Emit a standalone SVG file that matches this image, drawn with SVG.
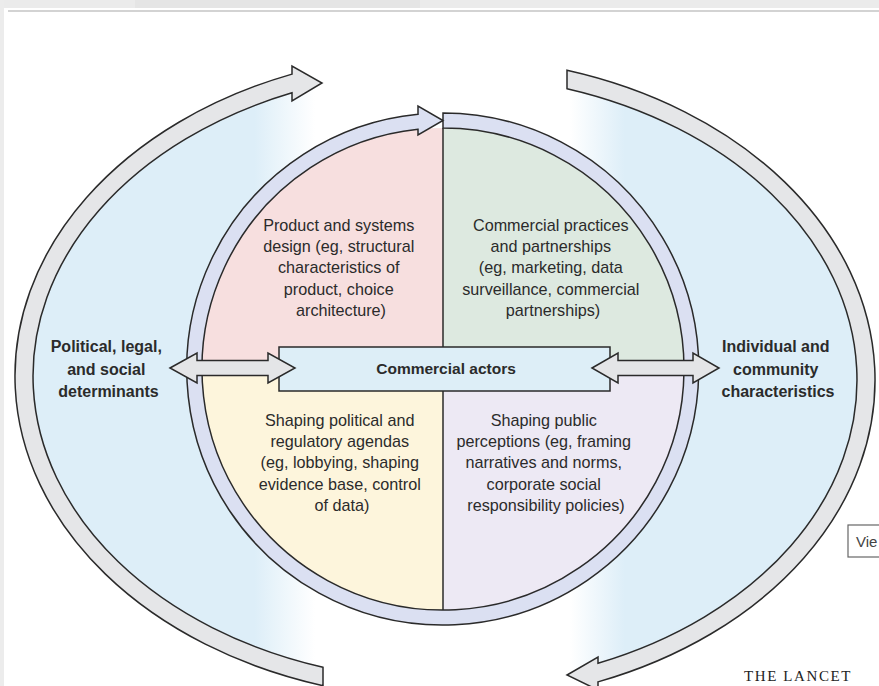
<svg xmlns="http://www.w3.org/2000/svg" width="879" height="686" viewBox="0 0 879 686">
  <defs>
    <linearGradient id="bgGrad" gradientUnits="userSpaceOnUse" x1="31" y1="0" x2="859" y2="0">
      <stop offset="0" stop-color="#ddeef8"/>
      <stop offset="0.27" stop-color="#ddeef8"/>
      <stop offset="0.343" stop-color="#ffffff"/>
      <stop offset="0.651" stop-color="#ffffff"/>
      <stop offset="0.717" stop-color="#ddeef8"/>
      <stop offset="1" stop-color="#ddeef8"/>
    </linearGradient>
    <style>
      .arc { fill: #e5e6e8; stroke: #2a2a2a; stroke-width: 1.5; stroke-linejoin: miter; }
      .ring { fill: #dbe0f2; stroke: #2a2a2a; stroke-width: 1.5; }
      .dbl { fill: #e4e5e7; stroke: #2a2a2a; stroke-width: 1.5; }
      .body { font-family: "Liberation Sans", Arial, sans-serif; font-size: 16.2px; fill: #2b2b2b; text-anchor: middle; }
      .label { font-family: "Liberation Sans", Arial, sans-serif; font-size: 16px; font-weight: bold; fill: #2b2b2b; text-anchor: middle; }
      .center { font-family: "Liberation Sans", Arial, sans-serif; font-size: 15.5px; font-weight: bold; fill: #2b2b2b; text-anchor: middle; }
    </style>
  </defs>

  <!-- page chrome -->
  <rect x="0" y="0" width="879" height="686" fill="#ffffff"/>
  <rect x="0" y="0" width="879" height="8" fill="#ebebeb"/>
  <rect x="135" y="0" width="285" height="8" fill="#e5e5e5"/>
  <rect x="0" y="0" width="4" height="686" fill="#ececec"/>
  <line x1="8" y1="11" x2="879" y2="11" stroke="#c4c4c4" stroke-width="1.5"/>

  <!-- background field -->
  <ellipse cx="445" cy="378" rx="414" ry="308" fill="url(#bgGrad)"/>

  <!-- outer arrows -->
  <g id="outer-left-arrow">
    <path class="arc" d="M323,667.3 L323,685.7 A430,323 0 0,1 292,74.1 L292,66 L322,83 L292,101 L292,92.8 A412,305 0 0,0 323,667.3 Z"/>
  </g>
  <g id="outer-right-arrow">
    <path class="arc" d="M567,88.7 L567,70.3 A430,323 0 0,1 598,681.9 L598,690 L567,675 L598,657 L598,663.2 A412,305 0 0,0 567,88.7 Z"/>
  </g>

  <!-- quadrants -->
  <g id="quadrant-product">
    <path d="M443,369 L202,369 A241,241 0 0,1 443,128 Z" fill="#f7dfdf"/>
    <text class="body" x="341" y="231">
      <tspan x="341">Product and systems</tspan>
      <tspan x="341" dy="21.2">design (eg, structural</tspan>
      <tspan x="341" dy="21.2">characteristics of</tspan>
      <tspan x="341" dy="21.2">product, choice</tspan>
      <tspan x="341" dy="21.2">architecture)</tspan>
    </text>
  </g>
  <g id="quadrant-practices">
    <path d="M443,369 L443,128 A241,241 0 0,1 684,369 Z" fill="#dde9e0"/>
    <text class="body" x="553" y="231">
      <tspan x="553">Commercial practices</tspan>
      <tspan x="553" dy="21.2">and partnerships</tspan>
      <tspan x="553" dy="21.2">(eg, marketing, data</tspan>
      <tspan x="553" dy="21.2">surveillance, commercial</tspan>
      <tspan x="553" dy="21.2">partnerships)</tspan>
    </text>
  </g>
  <g id="quadrant-political">
    <path d="M443,369 L443,610 A241,241 0 0,1 202,369 Z" fill="#fdf5dc"/>
    <text class="body" x="342" y="426">
      <tspan x="342">Shaping political and</tspan>
      <tspan x="342" dy="21.2">regulatory agendas</tspan>
      <tspan x="342" dy="21.2">(eg, lobbying, shaping</tspan>
      <tspan x="342" dy="21.2">evidence base, control</tspan>
      <tspan x="342" dy="21.2">of data)</tspan>
    </text>
  </g>
  <g id="quadrant-perceptions">
    <path d="M443,369 L684,369 A241,241 0 0,1 443,610 Z" fill="#ede9f4"/>
    <text class="body" x="546" y="426">
      <tspan x="546">Shaping public</tspan>
      <tspan x="546" dy="21.2">perceptions (eg, framing</tspan>
      <tspan x="546" dy="21.2">narratives and norms,</tspan>
      <tspan x="546" dy="21.2">corporate social</tspan>
      <tspan x="546" dy="21.2">responsibility policies)</tspan>
    </text>
  </g>
  <line x1="443" y1="128" x2="443" y2="610" stroke="#2a2a2a" stroke-width="1.5"/>

  <!-- inner ring arrow -->
  <g id="inner-ring">
    <path class="ring" d="M443,113 A256,256 0 1,1 418,114.2 L418,106 L443,120.5 L418,135 L418,129.3 A241,241 0 1,0 443,128 Z"/>
  </g>

  <!-- centre box -->
  <g id="commercial-actors">
    <rect x="279" y="347" width="331" height="44" fill="#ddeef7" stroke="#2a2a2a" stroke-width="1.5"/>
    <text class="center" x="446" y="374">Commercial actors</text>
  </g>

  <!-- side labels -->
  <g id="political-determinants">
    <text class="label" x="108.5" y="352">
      <tspan x="108.5">Political, legal,</tspan>
      <tspan x="108.5" dy="22.5">and social</tspan>
      <tspan x="108.5" dy="22.5">determinants</tspan>
    </text>
  </g>
  <g id="individual-characteristics">
    <text class="label" x="778" y="352">
      <tspan x="778">Individual and</tspan>
      <tspan x="778" dy="22.5">community</tspan>
      <tspan x="778" dy="22.5">characteristics</tspan>
    </text>
  </g>

  <!-- connectors -->
  <g id="connectors">
    <path class="dbl" d="M170,368 L197,353 L197,360.5 L268,360.5 L268,353 L295,368 L268,383 L268,375.5 L197,375.5 L197,383 Z"/>
    <path class="dbl" d="M592,368 L618,353 L618,360.5 L693,360.5 L693,353 L719,368 L693,383 L693,375.5 L618,375.5 L618,383 Z"/>
  </g>

  <!-- page extras -->
  <rect x="848" y="525" width="40" height="32" fill="#ffffff" stroke="#666666" stroke-width="1.2"/>
  <text x="856" y="547" font-family="Liberation Sans, Arial, sans-serif" font-size="15" fill="#444444">Vie</text>
  <text x="744" y="681" font-family="Liberation Serif, Times New Roman, serif" font-size="15" letter-spacing="1.6" fill="#222222">THE LANCET</text>
</svg>
